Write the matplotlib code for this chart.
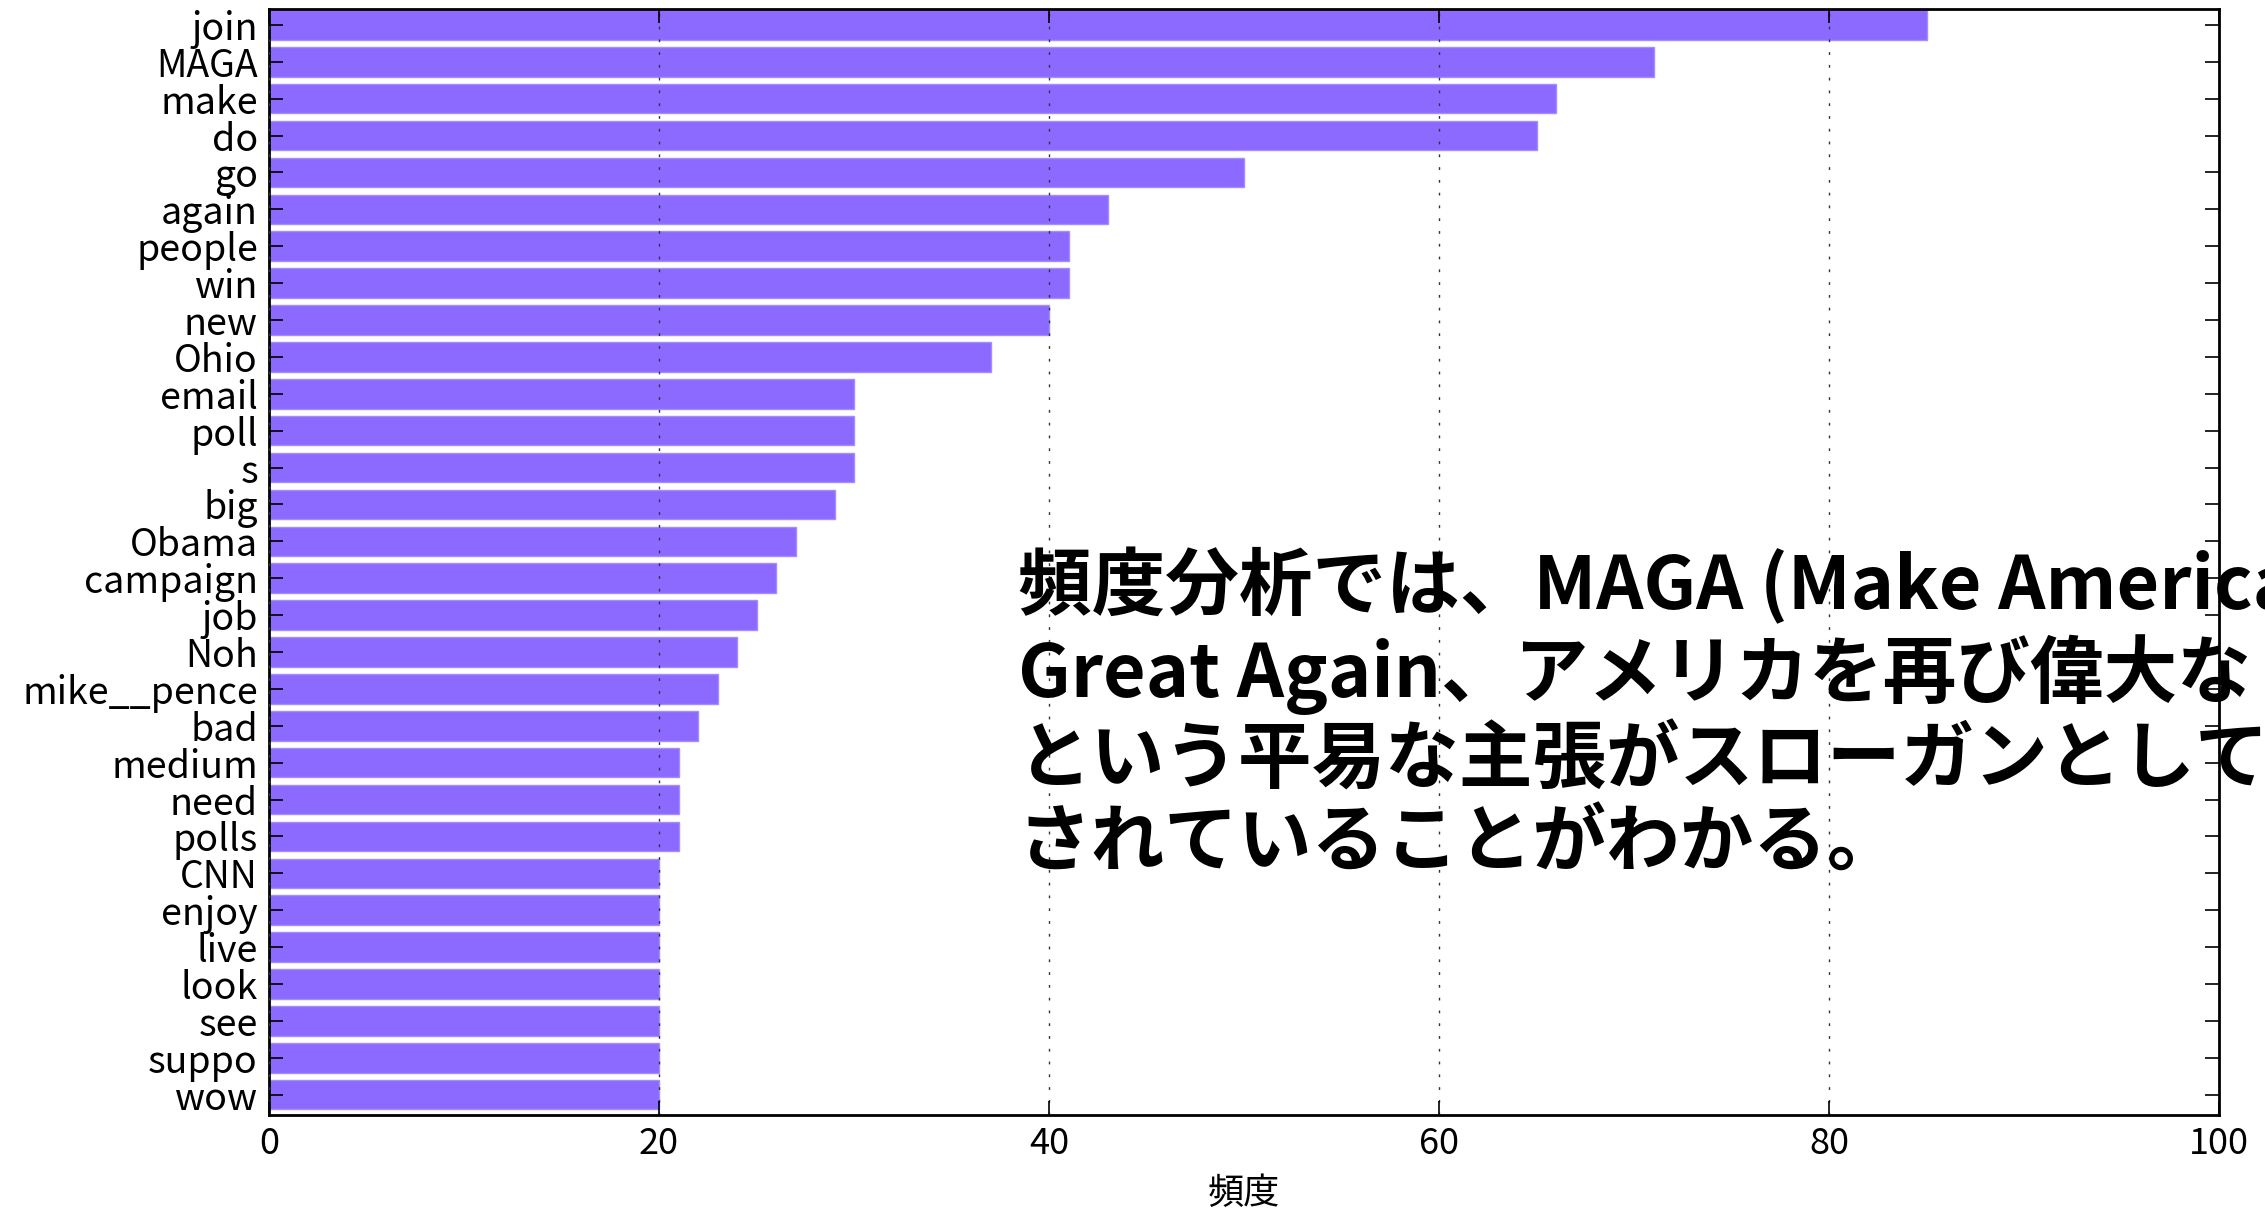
import matplotlib
matplotlib.use("Agg")
import matplotlib.pyplot as plt

plt.rcParams['font.family'] = ['Noto Sans CJK JP', 'DejaVu Sans']

words = ["join", "MAGA", "make", "do", "go", "again", "people", "win", "new", "Ohio",
         "email", "poll", "s", "big", "Obama", "campaign", "job", "Noh", "mike__pence", "bad",
         "medium", "need", "polls", "CNN", "enjoy", "live", "look", "see", "suppo", "wow"]
counts = [85, 71, 66, 65, 50, 43, 41, 41, 40, 37,
          30, 30, 30, 29, 27, 26, 25, 24, 23, 22,
          21, 21, 21, 20, 20, 20, 20, 20, 20, 20]
xticks = [0, 20, 40, 60, 80, 100]
xlabel = "頻度"
note = ("頻度分析では、MAGA (Make America\n"
        "Great Again、アメリカを再び偉大な\n"
        "という平易な主張がスローガンとして\n"
        "されていることがわかる。")

fig = plt.figure(figsize=(22.65, 12.11), dpi=100)
ax = fig.add_axes([269/2265, 1-1115/1211, (2219-269)/2265, (1115-9)/1211])

pos = list(range(len(words)))
ax.barh(pos, counts, height=0.8, color='#8c69ff', edgecolor='#a58cff', linewidth=1, align='center')
ax.set_ylim(len(words) - 1 + 0.55, -0.43)
ax.set_xlim(0, 100)
ax.set_yticks(pos)
ax.set_yticklabels(words, fontsize=27)
ax.set_xticks(xticks)
ax.set_xticklabels([str(t) for t in xticks], fontsize=26)
ax.set_xlabel(xlabel, fontsize=26, labelpad=10)

ax.set_axisbelow(False)
ax.xaxis.grid(True, linestyle=(0, (2, 7.2)), color='#333333', linewidth=1.0)
ax.tick_params(direction='in', top=True, right=True, length=10, width=1.2, pad=8)
for s in ax.spines.values():
    s.set_linewidth(2)

ax.text(38.4, 18.7, note, fontsize=53, fontweight='bold', va='center', ha='left',
        linespacing=1.15)

fig.savefig("out.png", dpi=100)
